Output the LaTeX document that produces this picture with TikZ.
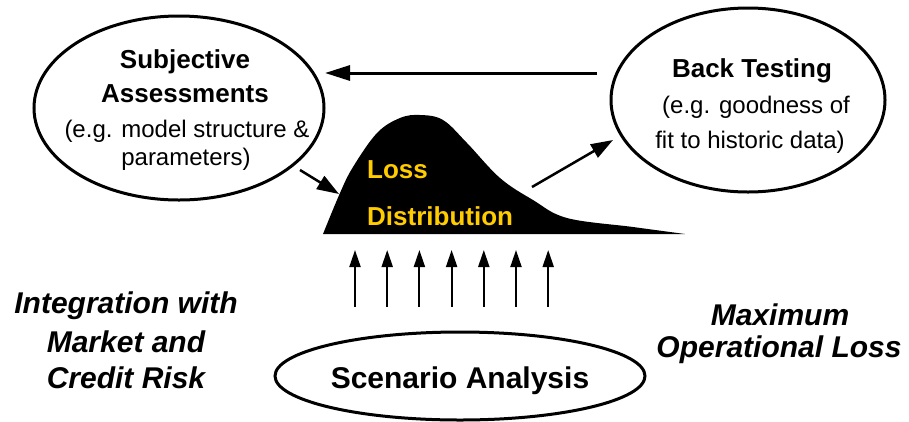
\documentclass[tikz,border=0pt]{standalone}
\usepackage{fontspec}
\setmainfont{Liberation Sans}
\usetikzlibrary{shapes.geometric,arrows.meta}
\definecolor{lossyellow}{HTML}{FFCC00}
\begin{document}
\begin{tikzpicture}[x=1pt,y=-1pt,
  oval/.style={ellipse,draw,line width=3pt,inner sep=0pt},
  normtxt/.style={anchor=base,inner sep=0pt,font=\fontsize{24}{28}\selectfont},
  boldtxt/.style={anchor=base,inner sep=0pt,font=\fontsize{26}{30}\selectfont\bfseries},
  bigtxt/.style={anchor=base,inner sep=0pt,font=\fontsize{30}{34}\selectfont\bfseries},
  bigital/.style={anchor=base,inner sep=0pt,font=\fontsize{30}{34}\selectfont\bfseries\itshape},
  losstxt/.style={anchor=base west,inner sep=0pt,text=lossyellow,font=\fontsize{26}{30}\selectfont\bfseries},
  bigarr/.style={line width=3pt,-{Triangle[length=25pt,width=15pt]}},
  diagarr/.style={line width=2.5pt,-{Triangle[length=22pt,width=15pt]}},
  uparr/.style={line width=2pt,-{Triangle[length=17pt,width=11pt]}}
]
\useasboundingbox (0,0) rectangle (909,421);

% ellipses
\node[oval,minimum width=290pt,minimum height=184pt] (sa) at (179,108) {};
\node[oval,minimum width=274pt,minimum height=184pt] (bt) at (748,100) {};
\node[oval,minimum width=370pt,minimum height=88pt] (sc) at (460,376) {};

% texts in left ellipse
\node[boldtxt] (sa1) at (185,68) {Subjective};
\node[boldtxt] (sa2) at (185,102) {Assessments};
\node[normtxt] (sa3) at (187,137) {(e.g. model structure \&};
\node[normtxt] (sa4) at (186,165) {parameters)};

% texts in right ellipse
\node[boldtxt] (bt1) at (752,77) {Back Testing};
\node[normtxt] (bt2) at (756,113) {(e.g. goodness of};
\node[normtxt] (bt3) at (750,148) {fit to historic data)};

% scenario
\node[bigtxt] (sc1) at (460,388) {Scenario Analysis};

% side texts
\node[bigital] (ig1) at (126,313) {Integration with};
\node[bigital] (ig2) at (126,352) {Market and};
\node[bigital] (ig3) at (126,388) {Credit Risk};
\node[bigital] (mx1) at (780,325) {Maximum};
\node[bigital] (mx2) at (779,357) {Operational Loss};

% loss distribution
\fill plot[smooth,tension=0.6] coordinates {(323,234) (340,193) (353,167) (377,133) (400,118) (420,115) (443,120) (467,143) (500,178) (533,200) (567,218) (633,227) (685,234)} -- cycle;
\node[losstxt] (ld1) at (367,178) {Loss};
\node[losstxt] (ld2) at (367,225) {Distribution};

% connectors
\coordinate (topS) at (597,73);
\coordinate (topE) at (325,73);
\draw[bigarr] (topS) -- (topE);
\coordinate (lS) at (300,170);
\coordinate (lE) at (339,194);
\draw[diagarr] (lS) -- (lE);
\coordinate (rS) at (532,187);
\coordinate (rE) at (613,140);
\draw[diagarr] (rS) -- (rE);
\foreach \i in {0,...,6}{
  \coordinate (u\i s) at (355+32.2*\i,307);
  \coordinate (u\i e) at (355+32.2*\i,250);
  \draw[uparr] (u\i s) -- (u\i e);
}
\end{tikzpicture}
\end{document}
